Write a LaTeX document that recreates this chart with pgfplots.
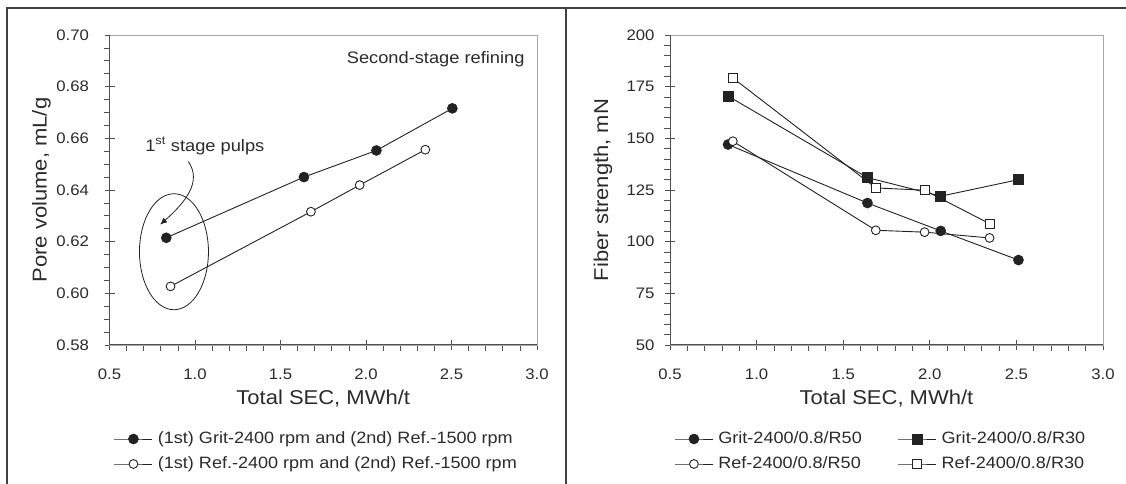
\documentclass[border=0pt]{standalone}
\usepackage{fontspec}
\setmainfont{Liberation Sans}[FakeStretch=1.1]
\usepackage{pgfplots}
\pgfplotsset{compat=1.18}
\usetikzlibrary{arrows.meta}
\definecolor{txt}{HTML}{2B2B2B}
\definecolor{spine}{HTML}{505050}
\definecolor{boxc}{HTML}{A8A8A8}
\definecolor{framec}{HTML}{404040}
\definecolor{ln}{HTML}{222222}

\pgfplotsset{
  panel/.style={
    scale only axis, height=310pt, anchor=south west, clip=false,
    xmin=0.5, xmax=3.0, xtick={0.5,1.0,1.5,2.0,2.5,3.0},
    xticklabel={\pgfmathprintnumber[fixed,fixed zerofill,precision=1]{\tick}},
    minor x tick num=4,
    tick pos=left, tick align=center,
    major tick length=10pt, minor tick length=6pt,
    minor x tick style={yshift=-3pt}, minor y tick style={xshift=-3pt},
    tick style={color=spine, line width=0.8pt},
    axis line style={color=boxc, line width=0.8pt},
    /pgf/number format/assume math mode=true,
    tick label style={font=\fontsize{15.2}{18}\selectfont, text=txt},
    xticklabel style={anchor=center, yshift=-24pt},
    label style={font=\fontsize{20}{24}\selectfont, text=txt},
    xlabel style={at={([yshift=-54pt]axis description cs:0.5,0)}, anchor=center},
    ylabel style={at={([xshift=-68pt]axis description cs:0,0.5)}, anchor=center, rotate=0},
    legend image code/.code={\draw[mark repeat=2,mark phase=2,##1] plot coordinates {(0pt,0pt) (19pt,0pt) (38pt,0pt)};},
    legend cell align=left,
    legend style={draw=none, fill=none, inner sep=0pt, outer sep=0pt,
      at={(axis description cs:0,0)}, anchor=north west, xshift=4.5pt, yshift=-86pt,
      row sep=9pt, column sep=5pt,
      font=\fontsize{16.4}{19}\selectfont,
      nodes={inner sep=0pt, text height=12.5pt, text depth=3.5pt, text=txt}},
    every axis plot/.append style={line width=0.9pt, color=ln},
    after end axis/.code={\draw[spine, line width=1pt] (rel axis cs:0,1) -- (rel axis cs:0,0) -- (rel axis cs:1,0);},
  },
  fcirc/.style={mark=*, mark size=5pt, mark options={fill=ln, draw=ln, line width=0.6pt}},
  ocirc/.style={mark=*, mark size=4.4pt, mark options={fill=white, draw=ln, line width=0.9pt}},
  fsq/.style={mark=square*, mark size=5pt, mark options={fill=ln, draw=ln, line width=0.6pt}},
  osq/.style={mark=square*, mark size=4.5pt, mark options={fill=white, draw=ln, line width=0.9pt}},
}

\begin{document}
\begin{tikzpicture}[x=1pt,y=1pt]
\useasboundingbox (0,0) rectangle (1126,484);
\fill[white] (0,0) rectangle (1126,484);

% ---------------- left panel ----------------
\begin{axis}[panel, at={(109.5pt,139pt)}, width=427.5pt,
  ymin=0.58, ymax=0.70, ytick={0.58,0.60,0.62,0.64,0.66,0.68,0.70},
  yticklabel={\pgfmathprintnumber[fixed,fixed zerofill,precision=2]{\tick}},
  yticklabel style={anchor=east, xshift=-12pt},
  minor y tick num=3,
  xlabel={Total SEC, MWh/t}, ylabel={Pore volume, mL/g}]
\addplot[fcirc] coordinates {(0.832,0.6215) (1.637,0.6450) (2.061,0.6553) (2.505,0.6716)};
\addlegendentry{(1st) Grit-2400 rpm and (2nd) Ref.-1500 rpm}
\addplot[ocirc] coordinates {(0.857,0.6027) (1.678,0.6316) (1.963,0.6419) (2.347,0.6556)};
\addlegendentry{(1st) Ref.-2400 rpm and (2nd) Ref.-1500 rpm}
\draw[ln, line width=0.8pt] (axis cs:0.877,0.6161) ellipse [x radius=34.5pt, y radius=58pt];
\draw[ln, line width=0.8pt, -{Latex[length=7pt,width=6pt]}] (axis cs:0.961,0.651) .. controls +(14pt,-20pt) and +(25pt,22pt) .. (axis cs:0.796,0.6266);
\node[anchor=west, inner sep=0pt, text=txt, font=\fontsize{16.6}{20}\selectfont] at (axis cs:0.708,0.657) {1\textsuperscript{st} stage pulps};
\node[anchor=east, inner sep=0pt, text=txt, font=\fontsize{16.6}{20}\selectfont] at (axis cs:2.928,0.6907) {Second-stage refining};
\end{axis}

% ---------------- right panel ----------------
\begin{axis}[panel, at={(670pt,139pt)}, width=433pt,
  ymin=50, ymax=200, ytick={50,75,100,125,150,175,200},
  yticklabel style={anchor=east, xshift=-7pt},
  minor y tick num=4,
  legend columns=2,
  legend style={/tikz/every even column/.append style={column sep=36pt}},
  xlabel={Total SEC, MWh/t}, ylabel={Fiber strength, mN},
  ylabel style={at={([xshift=-67pt]axis description cs:0,0.5)}}]
\addplot[fcirc] coordinates {(0.835,147.0) (1.640,118.7) (2.063,105.2) (2.512,91.1)};
\addlegendentry{Grit-2400/0.8/R50}
\addplot[fsq] coordinates {(0.836,170.4) (1.640,131.0) (2.063,122.0) (2.512,130.0)};
\addlegendentry{Grit-2400/0.8/R30}
\addplot[ocirc] coordinates {(0.863,148.6) (1.688,105.5) (1.970,104.6) (2.345,101.8)};
\addlegendentry{Ref-2400/0.8/R50}
\addplot[osq] coordinates {(0.863,179.2) (1.688,126.0) (1.970,124.9) (2.345,108.7)};
\addlegendentry{Ref-2400/0.8/R30}
\end{axis}

% ---------------- frame ----------------
\draw[framec, line width=2pt] (6.5,0) -- (6.5,476) -- (1126,476);
\draw[framec, line width=2pt] (565.5,0) -- (565.5,476);
\end{tikzpicture}
\end{document}
